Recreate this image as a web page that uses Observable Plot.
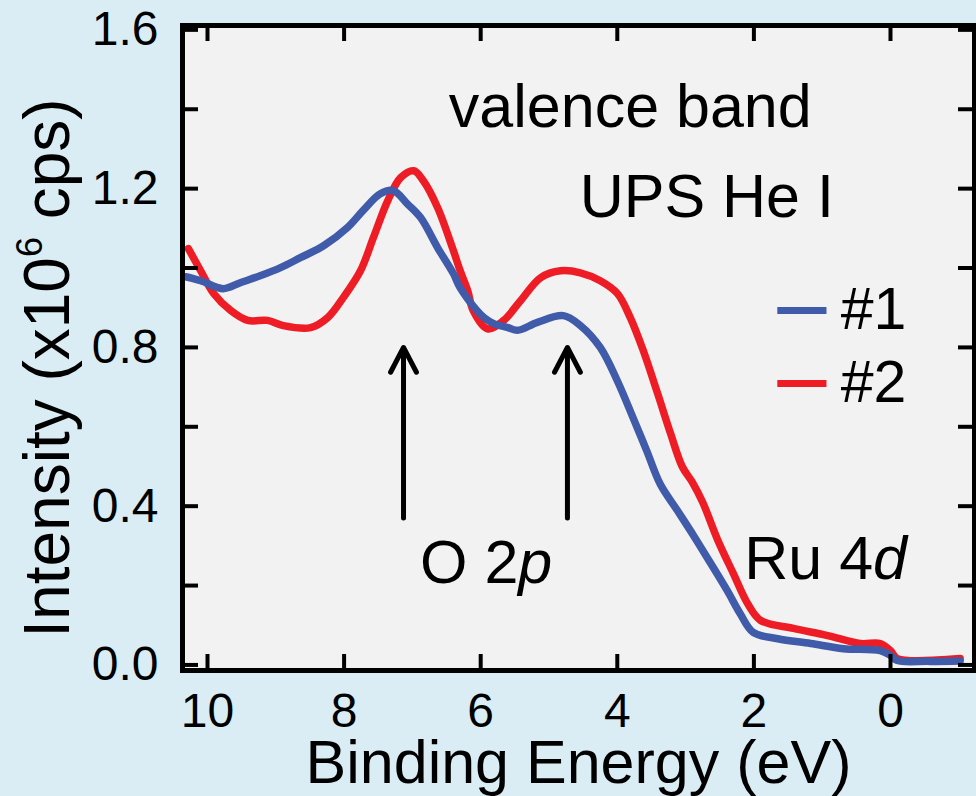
<!DOCTYPE html>
<html><head><meta charset="utf-8">
<script src="https://cdn.jsdelivr.net/npm/d3@7"></script>
<script src="https://cdn.jsdelivr.net/npm/@observablehq/plot@0.6"></script>
<style>
html,body{margin:0;padding:0;background:#daedf4;}
#chart{width:976px;height:796px;}
</style></head><body><div id="chart"></div>
<script>
// Series #1 (blue)
const energy1 = [10.32,10.10,9.77,9.52,9.22,8.93,8.64,8.30,7.95,7.72,7.47,7.28,7.07,6.88,6.63,6.40,6.30,6.05,5.95,5.81,5.60,5.46,5.17,4.79,4.54,4.25,4.00,3.77,3.57,3.37,3.12,2.88,2.64,2.39,2.20,2.01,1.65,1.17,0.69,0.15,0.00,-0.10,-0.54,-1.02];
const intensity1 = [0.978,0.968,0.948,0.963,0.981,1.001,1.026,1.056,1.102,1.145,1.187,1.195,1.161,1.127,1.051,0.986,0.950,0.892,0.875,0.860,0.850,0.843,0.863,0.880,0.855,0.800,0.716,0.623,0.540,0.455,0.389,0.325,0.258,0.187,0.129,0.082,0.066,0.054,0.041,0.036,0.024,0.011,0.009,0.010];
// Series #2 (red)
const energy2 = [10.28,10.10,9.91,9.66,9.41,9.12,8.89,8.49,8.24,8.01,7.76,7.57,7.36,7.17,6.98,6.84,6.63,6.40,6.30,6.19,6.11,5.90,5.67,5.42,5.12,4.83,4.54,4.25,4.00,3.81,3.62,3.41,3.22,3.05,2.90,2.75,2.53,2.30,2.09,1.90,1.42,0.92,0.44,0.15,0.00,-0.10,-1.02];
const intensity2 = [1.049,0.993,0.936,0.893,0.868,0.868,0.855,0.850,0.875,0.926,0.993,1.077,1.170,1.228,1.245,1.220,1.152,1.044,0.993,0.943,0.893,0.847,0.867,0.917,0.976,0.993,0.988,0.968,0.936,0.875,0.792,0.684,0.583,0.500,0.460,0.410,0.315,0.230,0.154,0.112,0.092,0.074,0.054,0.054,0.036,0.016,0.016];

const seriesNames = ["#1", "#2"];
const seriesColors = ["#3f5ba9", "#ee1d25"];

const xTicks = [10, 8, 6, 4, 2, 0];
const yTicks = [0, 0.2, 0.4, 0.6, 0.8, 1.0, 1.2, 1.4, 1.6];
const yTickLabels = [0, 0.4, 0.8, 1.2, 1.6];
const xLabel = "Binding Energy (eV)";
const yLabel = "Intensity (x106 cps)";

// annotations (data coordinates)
const noteText = ["valence band", "UPS He I", "O 2p", "Ru 4d"];
const noteX = [3.81, 2.69, 5.92, 0.95];
const noteY = [1.404, 1.177, 0.256, 0.266];
const arrowX = [7.13, 4.73];
const arrowFrom = [0.37, 0.37];
const arrowTo = [0.80, 0.80];
const legendY = [0.893, 0.709];
const legendX1 = 1.65, legendX2 = 0.93, legendTextX = 0.73;

const rows1 = energy1.map((e, i) => ({e, v: intensity1[i]}));
const rows2 = energy2.map((e, i) => ({e, v: intensity2[i]}));
const notes = noteText.map((t, i) => ({t, x: noteX[i], y: noteY[i]}));
const arrows = arrowX.map((x, i) => ({x, y1: arrowFrom[i], y2: arrowTo[i]}));
const legend = seriesNames.map((n, i) => ({n, c: seriesColors[i], y: legendY[i]}));

const W = 976, H = 796, mL = 182, mR = 2, mT = 25, mB = 126;
const plotW = W - mL - mR, plotH = H - mT - mB, tk = 16;

const chart = Plot.plot({
  width: W, height: H,
  marginLeft: mL, marginRight: mR, marginTop: mT, marginBottom: mB,
  style: {fontFamily: "'Liberation Sans', Arial, Helvetica, sans-serif", background: "#daedf4", color: "black"},
  x: {domain: [10.366, -1.23]},
  y: {domain: [-0.014, 1.611]},
  marks: [
    Plot.frame({fill: "#f2f2f2", stroke: null}),
    Plot.line(rows2, {x: "e", y: "v", curve: "catmull-rom", stroke: seriesColors[1], strokeWidth: 7.5, strokeLinejoin: "round", strokeLinecap: "round"}),
    Plot.line(rows1, {x: "e", y: "v", curve: "catmull-rom", stroke: seriesColors[0], strokeWidth: 7.5, strokeLinejoin: "round", strokeLinecap: "round"}),
    // inward ticks
    Plot.tickX(xTicks, {x: d => d, insetTop: plotH - tk, strokeWidth: 4}),
    Plot.tickX(xTicks, {x: d => d, insetBottom: plotH - tk, strokeWidth: 4}),
    Plot.tickY(yTicks, {y: d => d, insetRight: plotW - tk, strokeWidth: 4}),
    Plot.tickY(yTicks, {y: d => d, insetLeft: plotW - tk, strokeWidth: 4}),
    Plot.frame({stroke: "black", strokeWidth: 5}),
    Plot.axisX(xTicks, {anchor: "bottom", tickSize: 0, tickPadding: 22, fontSize: 48, label: null}),
    Plot.axisY(yTickLabels, {anchor: "left", tickSize: 0, tickPadding: 24, fontSize: 48, tickFormat: d3.format(".1f"), label: null}),
    Plot.text([xLabel], {frameAnchor: "bottom", textAnchor: "middle", lineAnchor: "middle", dy: 93, fontSize: 61}),
    Plot.text([yLabel], {frameAnchor: "left", textAnchor: "middle", lineAnchor: "middle", rotate: -90, dx: -134, dy: 20, fontSize: 64}),
    Plot.text(notes, {x: "x", y: "y", text: "t", fontSize: 61}),
    Plot.arrow(arrows, {x1: "x", x2: "x", y1: "y1", y2: "y2", strokeWidth: 5, headLength: 8.4, headAngle: 55}),
    Plot.ruleY(legend, {y: "y", x1: legendX1, x2: legendX2, stroke: "c", strokeWidth: 7}),
    Plot.text(legend, {x: legendTextX, y: "y", text: "n", textAnchor: "start", fontSize: 59})
  ]
});
document.getElementById("chart").appendChild(chart);

// rich text: superscript and italics
const NS = "http://www.w3.org/2000/svg";
function rebuild(el, parts) {
  while (el.firstChild) el.removeChild(el.firstChild);
  for (const p of parts) {
    const ts = document.createElementNS(NS, "tspan");
    ts.textContent = p.t;
    if (p.italic) ts.setAttribute("font-style", "italic");
    if (p.size) ts.setAttribute("font-size", p.size);
    if (p.shift) ts.setAttribute("baseline-shift", p.shift);
    el.appendChild(ts);
  }
}
chart.querySelectorAll("text").forEach(el => {
  const s = el.textContent;
  if (s === yLabel) rebuild(el, [{t: "Intensity (x10"}, {t: "6", size: 36, shift: "75%"}, {t: " cps)"}]);
  else if (s === "O 2p") rebuild(el, [{t: "O 2"}, {t: "p", italic: true}]);
  else if (s === "Ru 4d") rebuild(el, [{t: "Ru 4"}, {t: "d", italic: true}]);
});
</script>
</body></html>
